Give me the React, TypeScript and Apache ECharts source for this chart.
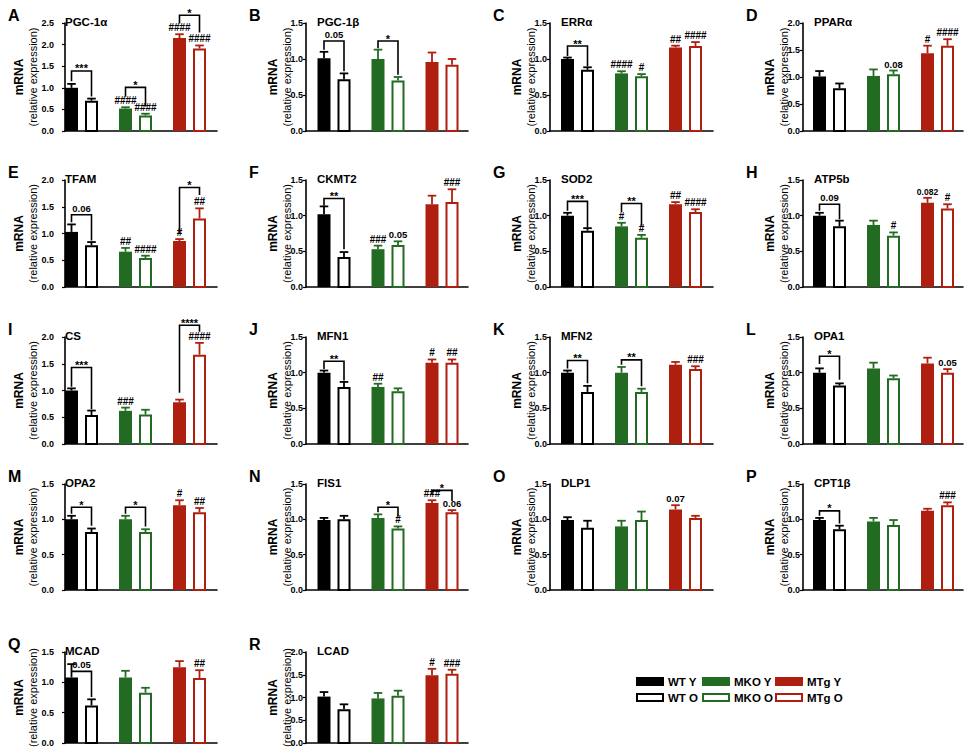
import { useEffect, useRef } from "react";
import * as echarts from "echarts";

// ---------- data ----------
const LETTERS = ["A", "B", "C", "D", "E", "F", "G", "H", "I", "J", "K", "L", "M", "N", "O", "P", "Q", "R"];
const GENES = ["PGC-1α", "PGC-1β", "ERRα", "PPARα", "TFAM", "CKMT2", "SOD2", "ATP5b", "CS", "MFN1", "MFN2", "OPA1", "OPA2", "FIS1", "DLP1", "CPT1β", "MCAD", "LCAD"];
const GROUPS = ["WT Y", "WT O", "MKO Y", "MKO O", "MTg Y", "MTg O"];
const Y_MAX = [2.5, 1.5, 1.5, 2.0, 2.0, 1.5, 1.5, 1.5, 2.0, 1.5, 1.5, 1.5, 1.5, 1.5, 1.5, 1.5, 1.5, 2.0];
const Y_STEP = 0.5;
const Y_NAME = "mRNA";
const Y_SUBNAME = "(relative expression)";

// order: WT Y, WT O, MKO Y, MKO O, MTg Y, MTg O
const MEAN = [
  [1.0, 0.7, 0.52, 0.36, 2.15, 1.91],
  [1.01, 0.72, 1.0, 0.7, 0.96, 0.92],
  [1.0, 0.85, 0.8, 0.76, 1.16, 1.18],
  [1.01, 0.79, 1.02, 1.05, 1.44, 1.58],
  [1.03, 0.78, 0.66, 0.54, 0.86, 1.28],
  [1.02, 0.42, 0.53, 0.59, 1.16, 1.19],
  [1.0, 0.79, 0.85, 0.69, 1.16, 1.05],
  [1.0, 0.85, 0.87, 0.72, 1.18, 1.1],
  [1.0, 0.54, 0.62, 0.55, 0.78, 1.67],
  [1.0, 0.8, 0.8, 0.74, 1.14, 1.14],
  [1.0, 0.73, 1.0, 0.73, 1.11, 1.05],
  [1.0, 0.82, 1.06, 0.92, 1.13, 1.0],
  [1.0, 0.82, 1.0, 0.82, 1.2, 1.1],
  [0.99, 1.0, 1.02, 0.87, 1.23, 1.1],
  [0.99, 0.88, 0.9, 0.99, 1.14, 1.02],
  [0.99, 0.86, 0.97, 0.92, 1.12, 1.2],
  [1.08, 0.62, 1.08, 0.83, 1.25, 1.07],
  [1.02, 0.74, 0.98, 1.04, 1.49, 1.52],
];
const SEM = [
  [0.09, 0.05, 0.03, 0.04, 0.09, 0.07],
  [0.09, 0.08, 0.13, 0.05, 0.13, 0.08],
  [0.02, 0.035, 0.03, 0.03, 0.025, 0.055],
  [0.1, 0.09, 0.12, 0.07, 0.14, 0.12],
  [0.14, 0.06, 0.07, 0.045, 0.035, 0.19],
  [0.11, 0.07, 0.05, 0.05, 0.12, 0.18],
  [0.04, 0.035, 0.05, 0.04, 0.03, 0.04],
  [0.04, 0.08, 0.06, 0.045, 0.07, 0.06],
  [0.04, 0.085, 0.06, 0.09, 0.05, 0.22],
  [0.03, 0.07, 0.045, 0.04, 0.045, 0.045],
  [0.03, 0.085, 0.08, 0.045, 0.04, 0.04],
  [0.06, 0.03, 0.08, 0.04, 0.08, 0.05],
  [0.05, 0.05, 0.05, 0.04, 0.07, 0.06],
  [0.03, 0.05, 0.05, 0.03, 0.04, 0.03],
  [0.04, 0.1, 0.08, 0.12, 0.06, 0.03],
  [0.03, 0.05, 0.05, 0.07, 0.03, 0.04],
  [0.22, 0.1, 0.11, 0.08, 0.1, 0.13],
  [0.1, 0.11, 0.12, 0.11, 0.14, 0.09],
];
// text shown above each bar (vs WT of same age)
const MARKS = [
  ["", "", "####", "####", "####", "####"],
  ["", "", "", "", "", ""],
  ["", "", "####", "#", "##", "####"],
  ["", "", "", "0.08", "#", "####"],
  ["", "", "##", "####", "#", "##"],
  ["", "", "###", "0.05", "", "###"],
  ["", "", "#", "#", "##", "####"],
  ["", "", "", "#", "0.082", "#"],
  ["", "", "###", "", "", "####"],
  ["", "", "##", "", "#", "##"],
  ["", "", "", "", "", "###"],
  ["", "", "", "", "", "0.05"],
  ["", "", "", "", "#", "##"],
  ["", "", "", "#", "###", "0.06"],
  ["", "", "", "", "0.07", ""],
  ["", "", "", "", "", "###"],
  ["", "", "", "", "", "##"],
  ["", "", "", "", "#", "###"],
];
// brackets: [bar A, bar B, level, label, lower end at A, lower end at B]
const BRACKETS: [number, number, number, string, number, number][][] = [
  [[0, 1, 1.39, "***", 1.15, 0.8], [2, 3, 1.01, "*", 0.79, 0.57], [4, 5, 2.68, "*", 2.49, 2.28]],
  [[0, 1, 1.25, "0.05", 1.13, 0.83], [2, 3, 1.25, "*", 1.15, 0.78]],
  [[0, 1, 1.18, "**", 1.04, 0.9]],
  [],
  [[0, 1, 1.35, "0.06", 1.21, 0.87], [4, 5, 1.86, "*", 1.0, 1.72]],
  [[0, 1, 1.24, "**", 1.14, 0.53]],
  [[0, 1, 1.2, "***", 1.07, 0.83], [2, 3, 1.17, "**", 1.05, 0.86]],
  [[0, 1, 1.16, "0.09", 1.07, 0.95]],
  [[0, 1, 1.43, "***", 1.07, 0.65], [4, 5, 2.22, "****", 0.96, 2.1]],
  [[0, 1, 1.16, "**", 1.05, 0.89]],
  [[0, 1, 1.17, "**", 1.06, 0.85], [2, 3, 1.18, "**", 1.11, 0.81]],
  [[0, 1, 1.23, "*", 1.12, 0.9]],
  [[0, 1, 1.17, "*", 1.08, 0.91], [2, 3, 1.17, "*", 1.08, 0.9]],
  [[2, 3, 1.17, "*", 1.1, 1.04], [4, 5, 1.41, "*", 1.36, 1.26]],
  [],
  [[0, 1, 1.12, "*", 1.05, 0.94]],
  [[0, 1, 1.18, "0.05", 1.18, 0.76]],
  [],
];

// ---------- layout / style ----------
const COL_X = [65, 306, 550, 803];
const COL_W = [152, 162, 163, 160];
const COL_FIRST = [6.5, 18, 17.5, 16.5];
const ROW_TOP = [23, 180, 337, 484, 652];
const ROW_BOTTOM = [131, 287, 444, 590, 743];
const UNIT = 20;
const BAR_X = [0, 1, 2.7, 3.7, 5.4, 6.4];
const BAR_W = 0.65;
const COLORS = ["#000000", "#236b23", "#ae1f0f"];
const FONT = "'Liberation Sans', Arial, Helvetica, sans-serif";

function buildOption() {
  const grid: any[] = [];
  const xAxis: any[] = [];
  const yAxis: any[] = [];
  const series: any[] = [];
  const graphic: any[] = [];

  GENES.forEach((gene, p) => {
    const r = Math.floor(p / 4);
    const c = p % 4;
    const top = ROW_TOP[r];
    const h = ROW_BOTTOM[r] - top;
    grid.push({ left: COL_X[c], top, width: COL_W[c], height: h, containLabel: false });
    const xmin = -COL_FIRST[c] / UNIT;
    xAxis.push({
      type: "value",
      gridIndex: p,
      min: xmin,
      max: xmin + COL_W[c] / UNIT,
      axisLine: { show: true, onZero: false, lineStyle: { color: "#000", width: 1.6 } },
      axisTick: { show: false },
      axisLabel: { show: false },
      splitLine: { show: false },
    });
    yAxis.push({
      type: "value",
      gridIndex: p,
      min: 0,
      max: Y_MAX[p],
      interval: Y_STEP,
      axisLine: { show: true, onZero: false, lineStyle: { color: "#000", width: 1.6 } },
      axisTick: { show: true, length: 3, lineStyle: { color: "#000", width: 1.2 } },
      axisLabel: {
        margin: c === 0 ? 11 : 3,
        color: "#000",
        fontFamily: FONT,
        fontWeight: "bold",
        fontSize: 9,
        formatter: (v: number) => v.toFixed(1),
      },
      splitLine: { show: false },
    });

    const data = MEAN[p].map((m, i) => [BAR_X[i], m, SEM[p][i]]);
    series.push({
      type: "custom",
      xAxisIndex: p,
      yAxisIndex: p,
      clip: false,
      encode: { x: 0, y: 1 },
      data,
      renderItem: (params: any, api: any) => {
        const i = params.dataIndex;
        const x = api.value(0);
        const m = api.value(1);
        const s = api.value(2);
        const base = api.coord([x, 0]);
        const tp = api.coord([x, m]);
        const et = api.coord([x, m + s]);
        const w = api.size([BAR_W, 0])[0];
        const color = COLORS[Math.floor(i / 2)];
        const filled = i % 2 === 0;
        const cx = base[0];
        const children: any[] = [];
        if (filled) {
          children.push({
            type: "rect",
            shape: { x: cx - w / 2, y: tp[1], width: w, height: base[1] - tp[1] },
            style: { fill: color },
          });
        } else {
          children.push({
            type: "rect",
            shape: { x: cx - w / 2 + 1, y: tp[1] + 1, width: w - 2, height: base[1] - tp[1] - 1 },
            style: { fill: "#fff", stroke: color, lineWidth: 2 },
          });
        }
        children.push({
          type: "line",
          shape: { x1: cx, y1: tp[1], x2: cx, y2: et[1] },
          style: { stroke: color, lineWidth: 1.8 },
        });
        children.push({
          type: "line",
          shape: { x1: cx - w * 0.33, y1: et[1], x2: cx + w * 0.33, y2: et[1] },
          style: { stroke: color, lineWidth: 1.8 },
        });
        const mark = MARKS[p][i];
        if (mark) {
          const isNum = mark.indexOf("#") < 0;
          children.push({
            type: "text",
            x: cx,
            y: et[1] - 1.5,
            style: {
              text: mark,
              fill: "#000",
              font: `bold ${isNum ? (mark.length > 4 ? 8.5 : 9.5) : 10}px ${FONT}`,
              textAlign: "center",
              textVerticalAlign: "bottom",
              align: "center",
              verticalAlign: "bottom",
            },
          });
        }
        return { type: "group", children };
      },
    });

    const bdata = BRACKETS[p].map((b) => [BAR_X[b[0]], BAR_X[b[1]], b[2], b[4], b[5]]);
    if (bdata.length) {
      series.push({
        type: "custom",
        xAxisIndex: p,
        yAxisIndex: p,
        clip: false,
        encode: { x: [0, 1], y: [2, 3, 4] },
        data: bdata,
        renderItem: (params: any, api: any) => {
          const k = params.dataIndex;
          const label = BRACKETS[p][k][3];
          const a = api.coord([api.value(0), api.value(2)]);
          const b = api.coord([api.value(1), api.value(2)]);
          const da = api.coord([api.value(0), api.value(3)]);
          const db = api.coord([api.value(1), api.value(4)]);
          const isStar = label.indexOf("*") >= 0;
          return {
            type: "group",
            children: [
              {
                type: "polyline",
                shape: { points: [[a[0], da[1]], [a[0], a[1]], [b[0], b[1]], [b[0], db[1]]] },
                style: { stroke: "#000", lineWidth: 1.6, fill: null },
              },
              {
                type: "text",
                x: (a[0] + b[0]) / 2,
                y: a[1] - (isStar ? -3 : 1.5),
                style: {
                  text: label,
                  fill: "#000",
                  font: `bold ${isStar ? 11 : 9.5}px ${FONT}`,
                  textAlign: "center",
                  textVerticalAlign: "bottom",
                  align: "center",
                  verticalAlign: "bottom",
                },
              },
            ],
          };
        },
      });
    }

    // panel letter, title, axis names
    graphic.push({
      type: "text",
      x: COL_X[c] - 57,
      y: top - 8,
      style: { text: LETTERS[p], fill: "#000", font: `bold 16px ${FONT}`, textAlign: "left", textVerticalAlign: "middle", align: "left", verticalAlign: "middle" },
    });
    graphic.push({
      type: "text",
      x: COL_X[c] + (c === 0 ? 0 : 11),
      y: top - 1,
      style: { text: gene, fill: "#000", font: `bold 11.5px ${FONT}`, textAlign: "left", textVerticalAlign: "middle", align: "left", verticalAlign: "middle" },
    });
    const extra = c === 0 ? 13 : 0;
    const cy = top + h / 2;
    graphic.push({
      type: "text",
      x: COL_X[c] - 33 - extra,
      y: cy,
      rotation: Math.PI / 2,
      style: { text: Y_NAME, fill: "#000", font: `bold 12px ${FONT}`, textAlign: "center", textVerticalAlign: "middle", align: "center", verticalAlign: "middle" },
    });
    graphic.push({
      type: "text",
      x: COL_X[c] - 19 - extra,
      y: cy,
      rotation: Math.PI / 2,
      style: { text: Y_SUBNAME, fill: "#000", font: `11px ${FONT}`, textAlign: "center", textVerticalAlign: "middle", align: "center", verticalAlign: "middle" },
    });
  });

  // legend
  const LEG_X = [636, 702, 775];
  const LEG_Y = [677, 693];
  GROUPS.forEach((g, i) => {
    const col = Math.floor(i / 2);
    const row = i % 2;
    const color = COLORS[col];
    graphic.push({
      type: "rect",
      shape: row === 0 ? { x: LEG_X[col], y: LEG_Y[row], width: 28, height: 9 } : { x: LEG_X[col] + 1, y: LEG_Y[row] + 1, width: 26, height: 7 },
      style: row === 0 ? { fill: color } : { fill: "#fff", stroke: color, lineWidth: 2 },
    });
    graphic.push({
      type: "text",
      x: LEG_X[col] + 32,
      y: LEG_Y[row] + 5,
      style: { text: g, fill: "#000", font: `bold 11.5px ${FONT}`, textAlign: "left", textVerticalAlign: "middle", align: "left", verticalAlign: "middle" },
    });
  });

  return { animation: false, backgroundColor: "#fff", grid, xAxis, yAxis, series, graphic };
}

export default function App() {
  const ref = useRef<HTMLDivElement>(null);
  useEffect(() => {
    if (!ref.current) return;
    const chart = echarts.init(ref.current, undefined, { renderer: "svg" });
    chart.setOption(buildOption() as any);
    return () => chart.dispose();
  }, []);
  return <div ref={ref} style={{ position: "fixed", left: 0, top: 0, width: 970, height: 750, background: "#fff" }} />;
}
